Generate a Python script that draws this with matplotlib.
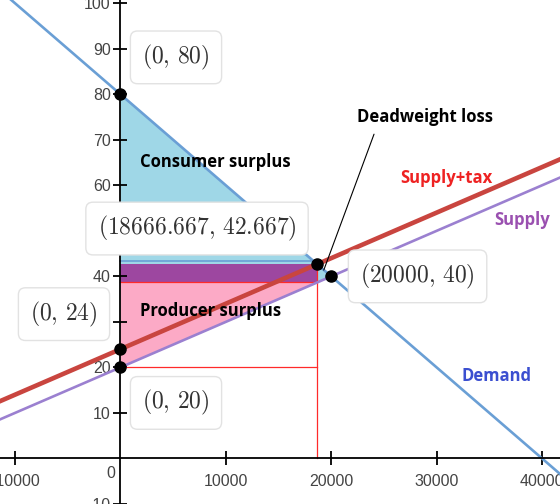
import numpy as np
import matplotlib
matplotlib.use("Agg")
import matplotlib.pyplot as plt
from matplotlib.patches import Polygon

plt.rcParams['mathtext.fontset'] = 'cm'

# Curves: price = intercept + slope * quantity
curve_names = ["Demand", "Supply", "Supply+tax"]
curve_intercepts = [80, 20, 24]
curve_slopes = [-0.002, 0.001, 0.001]
curve_colors = ["#6a9fd5", "#9b80d0", "#c9453f"]
curve_widths = [1.9, 1.9, 3.3]

# Key points
q_tax, p_buyer, p_seller = 18666.667, 42.667, 38.667
q_eq, p_eq = 20000, 40
point_q = [0, 18666.667, 20000, 0, 0]
point_p = [80, 42.667, 40, 24, 20]
point_labels = [r"$(0,\,80)$", r"$(18666.667,\,42.667)$", r"$(20000,\,40)$",
                r"$(0,\,24)$", r"$(0,\,20)$"]
label_pos = [(5275, 88.1), (7268, 50.5), (28188, 40.0), (-5350, 31.7), (5275, 12.2)]

x_ticks = [-10000, 10000, 20000, 30000, 40000]
y_ticks = [-10, 10, 20, 30, 40, 50, 60, 70, 80, 90, 100]

fig = plt.figure(figsize=(5.6, 5.04), dpi=100)
ax = fig.add_axes([0, 0, 1, 1])
ax.set_xlim(-11420, 41700)
ax.set_ylim(-8.9, 100.7)

# Surplus areas
cs = Polygon([(0, curve_intercepts[0]), (q_tax, p_buyer), (0, p_buyer)],
             closed=True, fc="#9fd7e7", ec="none", zorder=1)
tax_rev = Polygon([(0, p_seller), (q_tax, p_seller), (q_tax, p_buyer), (0, p_buyer)],
                  closed=True, fc="#9d47a0", ec="none", zorder=1)
ps = Polygon([(0, curve_intercepts[1]), (q_tax, p_seller), (0, p_seller)],
             closed=True, fc="#fcaac6", ec="none", zorder=1)
dwl = Polygon([(q_tax, p_buyer), (q_eq, p_eq), (q_tax, p_seller)],
              closed=True, fc="#9fd7e7", ec="none", zorder=1)
for patch in [cs, tax_rev, ps, dwl]:
    ax.add_patch(patch)
# thin blue edge on top of the tax band
ax.plot([0, q_tax], [p_buyer + 0.6, p_buyer + 0.6], color="#6a9fd5", lw=1.2, zorder=1.5)

# Red guide lines
ax.plot([0, q_tax], [p_seller, p_seller], color="#ff2a2a", lw=0.9, zorder=2)
ax.plot([0, q_tax], [curve_intercepts[1], curve_intercepts[1]], color="#ff2a2a", lw=0.9, zorder=2)
ax.plot([q_tax, q_tax], [0, p_buyer], color="#ff2a2a", lw=0.9, zorder=2)

# Curves
xs = np.array([-20000, 50000])
for b, m, c, w in zip(curve_intercepts, curve_slopes, curve_colors, curve_widths):
    ax.plot(xs, b + m * xs, color=c, lw=w, zorder=3, solid_capstyle="butt")

# Points
ax.plot(point_q, point_p, "o", color="black", ms=8, zorder=5)

# Axes through origin
for side in ["top", "right"]:
    ax.spines[side].set_visible(False)
ax.spines["left"].set_position(("data", 0))
ax.spines["bottom"].set_position(("data", 0))
for side in ["left", "bottom"]:
    ax.spines[side].set_linewidth(1.3)
    ax.spines[side].set_zorder(4)
ax.set_xticks(x_ticks)
ax.set_xticklabels([str(t) for t in x_ticks])
ax.set_yticks(y_ticks)
ax.set_yticklabels([str(t) for t in y_ticks])
ax.tick_params(direction="inout", length=10, width=1.3, labelsize=11.5,
               labelcolor="#444444")
ax.tick_params(axis="x", pad=6)
ax.tick_params(axis="y", pad=2)
for lbl in ax.get_xticklabels() + ax.get_yticklabels():
    lbl.set_family("Liberation Sans")
ax.text(-500, -3.3, "0", ha="right", va="center", fontsize=11.5, color="#444444",
        family="Liberation Sans")

# Coordinate label boxes
for (x, y), s in zip(label_pos, point_labels):
    ax.text(x, y, s, ha="center", va="center", fontsize=17, color="#333333", zorder=6,
            bbox=dict(boxstyle="round,pad=0.5,rounding_size=0.3", fc="white",
                      ec="#e2e2e2", lw=1))

# Text annotations
bold = dict(fontsize=12, fontweight="bold", family="Open Sans", zorder=7)
ax.text(1860, 65.2, "Consumer surplus", ha="left", va="center", color="black", **bold)
ax.text(1860, 32.4, "Producer surplus", ha="left", va="center", color="black", **bold)
ax.text(28900, 75.0, "Deadweight loss", ha="center", va="center", color="black", **bold)
ax.text(30900, 61.6, "Supply+tax", ha="center", va="center", color="#ee2222", **bold)
ax.text(38100, 52.4, "Supply", ha="center", va="center", color="#9a50b0", **bold)
ax.text(35660, 18.1, "Demand", ha="center", va="center", color="#3b4fd0", **bold)
ax.annotate("", xy=(19200, 40.8), xytext=(24150, 71.8),
            arrowprops=dict(arrowstyle="-", color="black", lw=0.8), zorder=7)

fig.savefig("out.png", dpi=100)
